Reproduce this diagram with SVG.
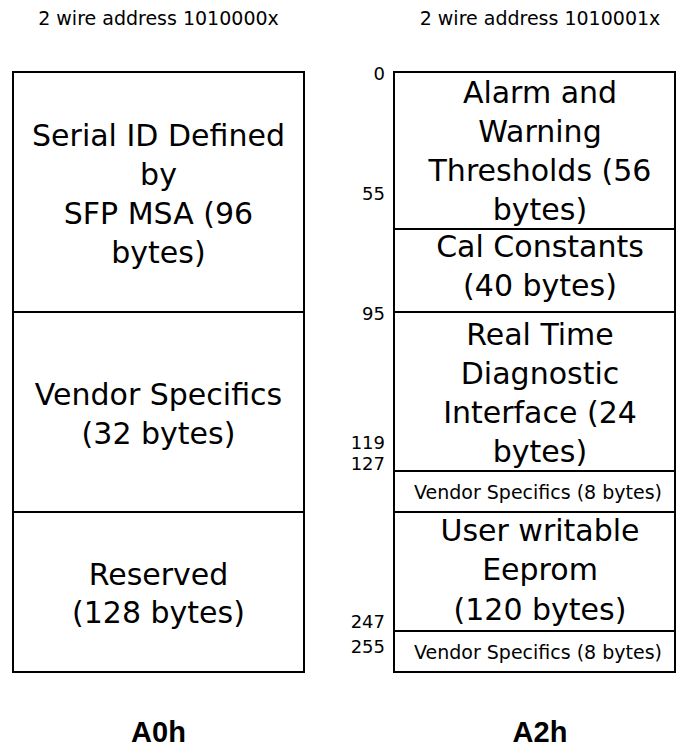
<svg xmlns="http://www.w3.org/2000/svg" width="676" height="749" viewBox="0 0 676 749">
<style>
.box{fill:#fff;stroke:#000;stroke-width:2}
.div{stroke:#000;stroke-width:2}
.big{font-family:"DejaVu Sans",sans-serif;font-size:30px;fill:#000;text-anchor:middle}
.sm{font-family:"DejaVu Sans",sans-serif;font-size:19px;fill:#000;text-anchor:middle}
.num{font-family:"DejaVu Sans",sans-serif;font-size:18px;fill:#000;text-anchor:end}
.ttl{font-family:"Liberation Sans",Arial,sans-serif;font-size:29px;font-weight:bold;fill:#000;text-anchor:middle}
</style>
<rect width="676" height="749" fill="#fff"/>
<g id="A0h">
<text class="sm" x="158.5" y="25">2 wire address 1010000x</text>
<rect class="box" x="13" y="72" width="291" height="600"/>
<line class="div" x1="13" y1="312" x2="304" y2="312"/>
<line class="div" x1="13" y1="512" x2="304" y2="512"/>
<g id="a0-serial">
<text class="big" x="158.5" y="146">Serial ID Defined</text>
<text class="big" x="158.5" y="185">by</text>
<text class="big" x="158.5" y="224">SFP MSA (96</text>
<text class="big" x="158.5" y="263">bytes)</text>
</g>
<g id="a0-vendor">
<text class="big" x="158.5" y="405">Vendor Specifics</text>
<text class="big" x="158.5" y="444">(32 bytes)</text>
</g>
<g id="a0-reserved">
<text class="big" x="158.5" y="585">Reserved</text>
<text class="big" x="158.5" y="623">(128 bytes)</text>
</g>
<text class="ttl" x="158.5" y="742">A0h</text>
</g>
<g id="A2h">
<text class="sm" x="540" y="25">2 wire address 1010001x</text>
<rect class="box" x="394" y="72" width="281" height="600"/>
<line class="div" x1="394" y1="229" x2="675" y2="229"/>
<line class="div" x1="394" y1="312" x2="675" y2="312"/>
<line class="div" x1="394" y1="471" x2="675" y2="471"/>
<line class="div" x1="394" y1="512" x2="675" y2="512"/>
<line class="div" x1="394" y1="631" x2="675" y2="631"/>
<g id="a2-alarm">
<text class="big" x="540" y="103">Alarm and</text>
<text class="big" x="540" y="142">Warning</text>
<text class="big" x="540" y="181">Thresholds (56</text>
<text class="big" x="540" y="220">bytes)</text>
</g>
<g id="a2-cal">
<text class="big" x="540" y="257">Cal Constants</text>
<text class="big" x="540" y="296">(40 bytes)</text>
</g>
<g id="a2-rtd">
<text class="big" x="540" y="345">Real Time</text>
<text class="big" x="540" y="384">Diagnostic</text>
<text class="big" x="540" y="423">Interface (24</text>
<text class="big" x="540" y="462">bytes)</text>
</g>
<g id="a2-vendor1">
<text class="sm" x="538" y="499">Vendor Specifics (8 bytes)</text>
</g>
<g id="a2-user">
<text class="big" x="540" y="541">User writable</text>
<text class="big" x="540" y="580">Eeprom</text>
<text class="big" x="540" y="620">(120 bytes)</text>
</g>
<g id="a2-vendor2">
<text class="sm" x="538" y="659">Vendor Specifics (8 bytes)</text>
</g>
<g id="a2-offsets">
<text class="num" x="385" y="80">0</text>
<text class="num" x="385" y="200">55</text>
<text class="num" x="385" y="320">95</text>
<text class="num" x="385" y="449">119</text>
<text class="num" x="385" y="470">127</text>
<text class="num" x="385" y="628">247</text>
<text class="num" x="385" y="653">255</text>
</g>
<text class="ttl" x="540" y="742">A2h</text>
</g>
<g id="connectors"/>
</svg>
